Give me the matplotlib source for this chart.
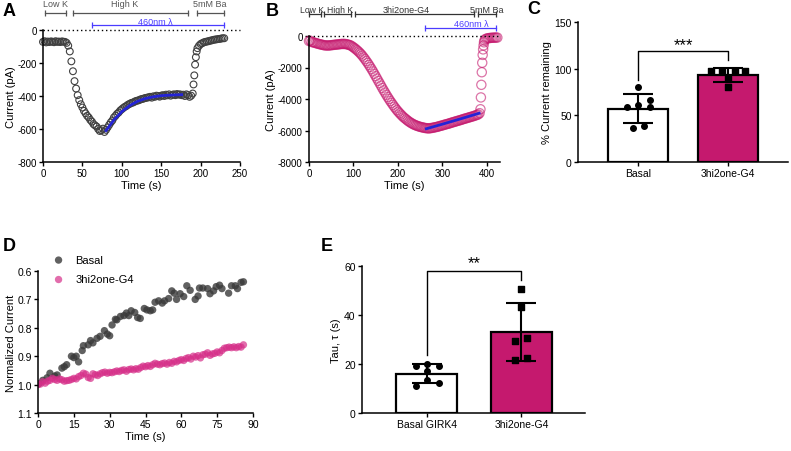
import numpy as np
import matplotlib
matplotlib.use("Agg")
import matplotlib.pyplot as plt
import matplotlib.transforms as mtransforms

plt.rcParams['font.family'] = ['Liberation Sans', 'DejaVu Sans']
plt.rcParams['axes.unicode_minus'] = False

# ---- data ----
# A: basal GIRK4 current trace (2 s sampling, then the Ba block)
a_current_main = [-72, -68, -75, -70, -73, -69, -71, -74, -68, -72, -70, -73, -69, -71, -72,
                  -78, -95, -130, -190, -250, -310, -355, -395, -425, -450, -470, -490, -505,
                  -520, -530, -545, -555, -570, -578, -585, -600, -612, -608, -598, -618, -605,
                  -590, -575, -560, -548, -530, -520, -508, -500, -488, -480, -472, -465, -460,
                  -452, -448, -442, -440, -435, -430, -428, -425, -420, -418, -415, -412, -410,
                  -408, -405, -410, -402, -405, -398, -400, -404, -398, -395, -400, -392, -396,
                  -390, -398, -393, -390, -395, -388, -392, -390, -395, -392, -400, -390, -395,
                  -405, -398]
a_jump_time = [190, 191, 192, 193, 194, 195, 196, 198]
a_jump_current = [-385, -330, -275, -210, -165, -130, -110, -95]
a_tail_time = [200, 202, 204, 206, 208, 210, 212, 214, 216, 218, 220, 222, 224, 226, 228, 230]
a_tail_current = [-85, -80, -75, -72, -70, -68, -65, -63, -60, -58, -57, -55, -54, -52, -50, -50]
a_fit_time = [80, 90, 100, 110, 120, 130, 140, 150, 160, 176]
a_fit_current = [-610, -545, -495, -458, -432, -415, -405, -398, -395, -392]

# B: 3hi2one-G4 current trace (3 s sampling, then the Ba block)
b_current_main = [-320, -300, -380, -400, -420, -450, -470, -500, -520, -540, -560, -580, -600,
                  -590, -610, -600, -590, -580, -570, -560, -550, -540, -530, -520, -510, -500,
                  -510, -500, -520, -540, -560, -590, -640, -700, -760, -830, -900, -980, -1060,
                  -1150, -1250, -1360, -1470, -1590, -1710, -1840, -1970, -2110, -2250, -2400,
                  -2550, -2700, -2850, -3000, -3150, -3300, -3450, -3590, -3730, -3870, -4000,
                  -4130, -4250, -4370, -4490, -4600, -4710, -4810, -4900, -4990, -5080, -5160,
                  -5230, -5300, -5370, -5430, -5490, -5540, -5590, -5630, -5670, -5700, -5730,
                  -5760, -5780, -5800, -5820, -5840, -5850, -5860, -5870, -5850, -5840, -5830,
                  -5800, -5790, -5770, -5750, -5720, -5700, -5680, -5650, -5630, -5600, -5580,
                  -5560, -5530, -5500, -5480, -5450, -5430, -5400, -5380, -5350, -5330, -5300,
                  -5270, -5250, -5220, -5200, -5170, -5150, -5120, -5100, -5070, -5040, -5010,
                  -4980, -4900]
b_jump_time = [386, 387, 388, 389, 390, 391, 392, 393, 394, 395, 397, 400, 403, 406, 409, 412,
               415, 418, 421, 424]
b_jump_current = [-4650, -3900, -3100, -2300, -1700, -1200, -850, -600, -400, -280, -200, -160,
                  -140, -130, -120, -110, -110, -100, -100, -100]
b_fit_time = [264, 300, 340, 383]
b_fit_current = [-5890, -5600, -5270, -4905]

# C: % current remaining
c_groups = ['Basal', '3hi2one-G4']
c_basal = [80, 59, 61, 59, 66, 36, 39]
c_g4 = [97, 98, 98, 98, 89, 80]

# D: normalized current
d_basal_time = [0.3, 2, 3.8, 5, 7, 8, 10, 11, 12, 14, 15, 16, 17, 18.5, 19, 21, 22, 23, 24.7,
                26, 27.8, 29, 30, 31, 32.4, 33, 34.5, 36, 37, 38, 39, 40.5, 41.7, 42.8, 44.5,
                45.6, 47, 48, 49, 50.5, 52, 53, 54.7, 56, 57, 58, 59.5, 61, 62.3, 63.7, 65.8,
                67, 67.6, 69, 71, 72, 73.5, 74.6, 76, 77, 79.8, 81, 82.6, 83.5, 85, 86]
d_basal = [0.997, 0.985, 0.976, 0.96, 0.97, 0.966, 0.942, 0.937, 0.93, 0.90, 0.905, 0.90,
           0.92, 0.88, 0.863, 0.86, 0.845, 0.853, 0.837, 0.83, 0.81, 0.822, 0.828, 0.79,
           0.77, 0.772, 0.76, 0.757, 0.748, 0.757, 0.74, 0.746, 0.764, 0.767, 0.732, 0.737,
           0.74, 0.737, 0.71, 0.705, 0.713, 0.705, 0.697, 0.67, 0.678, 0.70, 0.68, 0.69,
           0.652, 0.668, 0.70, 0.688, 0.66, 0.66, 0.662, 0.68, 0.67, 0.655, 0.65, 0.662,
           0.678, 0.652, 0.652, 0.662, 0.64, 0.638]
d_g4 = [1.000, 0.998, 0.990, 0.995, 0.988, 0.985, 0.978, 0.982, 0.985, 0.980, 0.983, 0.988,
        0.986, 0.985, 0.982, 0.978, 0.980, 0.972, 0.968, 0.960, 0.963, 0.975, 0.978, 0.962,
        0.965, 0.968, 0.962, 0.958, 0.956, 0.960, 0.957, 0.958, 0.955, 0.952, 0.954, 0.950,
        0.948, 0.953, 0.947, 0.945, 0.948, 0.944, 0.946, 0.940, 0.935, 0.937, 0.933, 0.936,
        0.930, 0.925, 0.928, 0.930, 0.926, 0.924, 0.928, 0.922, 0.925, 0.918, 0.920, 0.915,
        0.912, 0.915, 0.908, 0.905, 0.910, 0.900, 0.903, 0.898, 0.906, 0.895, 0.893, 0.888,
        0.897, 0.892, 0.890, 0.885, 0.888, 0.880, 0.872, 0.870, 0.868, 0.870, 0.867, 0.870,
        0.866, 0.868, 0.860]

# E: tau
e_groups = ['Basal GIRK4', '3hi2one-G4']
e_basal = [19.3, 20.0, 19.3, 17.2, 13.6, 10.9, 12.2]
e_g4 = [50.7, 43.4, 29.3, 30.8, 21.6, 22.3]

# ---- styling / layout ----
MAG = '#c5196e'
W, H = 791, 452
fig = plt.figure(figsize=(W / 100, H / 100), dpi=100)


def px_axes(left, right, top, bottom):
    return fig.add_axes([left / W, 1 - bottom / H, (right - left) / W, (bottom - top) / H])


def style(ax, fs=7):
    for s in ['top', 'right']:
        ax.spines[s].set_visible(False)
    for s in ['left', 'bottom']:
        ax.spines[s].set_linewidth(1.1)
    ax.tick_params(direction='out', length=3, width=1, labelsize=fs, pad=1.5)


def seg(ax, x0, x1, y, color, text, tx, ty, fs):
    tr = mtransforms.blended_transform_factory(ax.transData, ax.transAxes)
    ax.plot([x0, x1], [y, y], color=color, lw=0.9, marker='|', ms=5, mew=0.9,
            transform=tr, clip_on=False)
    ax.text(tx, ty, text, color=color, fontsize=fs, ha='center', va='center', transform=tr)


# A
axA = px_axes(43, 240, 31, 163)
style(axA)
a_time = list(np.arange(0, 2 * len(a_current_main), 2)) + a_jump_time + a_tail_time
a_cur = a_current_main + a_jump_current + a_tail_current
axA.scatter(a_time, a_cur, s=24, facecolors='none', edgecolors='#404040', linewidths=0.8,
            clip_on=False, zorder=2)
axA.plot(a_fit_time, a_fit_current, color='#2323d6', lw=2, zorder=3)
axA.axhline(0, color='k', ls=(0, (1, 2)), lw=1, clip_on=False)
axA.set_xlim(0, 250)
axA.set_ylim(-800, 0)
axA.set_xticks(range(0, 251, 50))
axA.set_yticks(range(-800, 1, 200))
axA.set_xlabel('Time (s)', fontsize=8, labelpad=1)
axA.set_ylabel('Current (pA)', fontsize=8, labelpad=1)
seg(axA, 2.5, 29, 1.129, '#555555', 'Low K', 15.6, 1.197, 6.5)
seg(axA, 38, 184, 1.129, '#555555', 'High K', 103, 1.197, 6.5)
seg(axA, 195, 230, 1.129, '#555555', '5mM Ba', 212, 1.197, 6.5)
seg(axA, 62, 230, 1.038, '#4b3cff', '460nm λ', 142, 1.068, 6.5)

# B
axB = px_axes(309, 500, 37, 163)
style(axB)
b_time = list(np.arange(0, 3 * len(b_current_main), 3)) + b_jump_time
b_cur = b_current_main + b_jump_current
axB.scatter(b_time, b_cur, s=44, facecolors='none', edgecolors=MAG, linewidths=0.9,
            alpha=0.6, clip_on=False, zorder=2)
axB.plot(b_fit_time, b_fit_current, color='#2323d6', lw=2, zorder=3)
axB.axhline(0, color='k', ls=(0, (1, 2)), lw=1, clip_on=False)
axB.set_xlim(0, 430)
axB.set_ylim(-8000, 0)
axB.set_xticks(range(0, 401, 100))
axB.set_yticks(range(-8000, 1, 2000))
axB.set_xlabel('Time (s)', fontsize=8, labelpad=1)
axB.set_ylabel('Current (pA)', fontsize=8, labelpad=1)
seg(axB, 0, 28, 1.175, '#333333', 'Low K', 7, 1.214, 6.2)
seg(axB, 33, 95, 1.175, '#333333', 'High K', 69, 1.214, 6.2)
seg(axB, 103, 372, 1.175, '#333333', '3hi2one-G4', 219, 1.214, 6.5)
seg(axB, 380, 422, 1.175, '#333333', '5mM Ba', 400, 1.214, 6.5)
seg(axB, 262, 422, 1.063, '#4b3cff', '460nm λ', 365, 1.10, 6.5)


def bar_panel(ax, groups, g1, g2, off1, off2, width):
    pos = np.arange(len(groups))
    vals = [np.array(g1), np.array(g2)]
    means = [v.mean() for v in vals]
    sds = [v.std(ddof=1) for v in vals]
    ax.bar(pos, means, width=width, color=['white', MAG], edgecolor='k', lw=1.6, zorder=1)
    ax.errorbar(pos, means, yerr=sds, fmt='none', ecolor='k', elinewidth=1.5, capsize=10.5,
                capthick=1.5, zorder=3)
    ax.scatter(pos[0] + np.array(off1), g1, s=16, marker='o', color='k', zorder=4)
    ax.scatter(pos[1] + np.array(off2), g2, s=16, marker='s', color='k', zorder=4)
    ax.set_xticks(pos)
    ax.set_xticklabels(groups, fontsize=7.5)
    return pos


# C
axC = px_axes(578, 788, 23, 163)
style(axC, 7.5)
bar_panel(axC, c_groups, c_basal, c_g4,
          [0, -0.122, 0, 0.13, 0.13, -0.056, 0.063],
          [-0.19, -0.067, 0.074, 0.185, 0, 0], 0.66)
axC.set_xlim(-0.667, 1.667)
axC.set_ylim(0, 150)
axC.set_yticks([0, 50, 100, 150])
axC.set_ylabel('% Current remaining', fontsize=8, labelpad=2)
axC.plot([0, 0, 1, 1], [87.5, 118.6, 118.6, 109], color='k', lw=1, zorder=5)
axC.text(0.5, 126, '***', ha='center', va='center', fontsize=12)

# D
axD = px_axes(38, 253, 272, 414)
style(axD, 7.5)
axD.scatter(d_basal_time, d_basal, s=28, color='#3a3a3a', alpha=0.8, edgecolors='none',
            label='Basal', zorder=2)
axD.scatter(np.arange(len(d_g4)), d_g4, s=28, color='#d62f89', alpha=0.7, edgecolors='none',
            label='3hi2one-G4', zorder=2)
axD.set_xlim(0, 90)
axD.set_ylim(1.1, 0.6)
axD.set_xticks(range(0, 91, 15))
axD.set_yticks([0.6, 0.7, 0.8, 0.9, 1.0, 1.1])
axD.set_yticklabels(['0.6', '0.7', '0.8', '0.9', '1.0', '1.1'])
axD.set_xlabel('Time (s)', fontsize=8, labelpad=1)
axD.set_ylabel('Normalized Current', fontsize=8, labelpad=1)
axD.legend(loc='upper left', bbox_to_anchor=((53 - 38) / 215, (414 - 256) / 142),
           frameon=False, borderaxespad=0, borderpad=0, handletextpad=1.0, labelspacing=0.85,
           fontsize=8, handlelength=1)

# E
axE = px_axes(362, 585, 267, 414)
style(axE, 7.5)
bar_panel(axE, e_groups, e_basal, e_g4,
          [-0.116, 0, 0.13, 0, 0, -0.116, 0.13],
          [0, 0, -0.063, 0.06, -0.063, 0.06], 0.64)
axE.set_xlim(-0.68, 1.67)
axE.set_ylim(0, 60)
axE.set_yticks([0, 20, 40, 60])
axE.set_ylabel('Tau, τ (s)', fontsize=8, labelpad=2)
axE.plot([0, 0, 1, 1], [23.7, 58, 58, 54.3], color='k', lw=1, clip_on=False, zorder=5)
axE.text(0.5, 61.3, '**', ha='center', va='center', fontsize=12, clip_on=False)

# panel letters
for lab, x, y in [('A', 3, 3), ('B', 266, 3), ('C', 527, 1), ('D', 3, 238), ('E', 321, 238)]:
    fig.text(x / W, 1 - y / H, lab, fontsize=13, fontweight='bold', ha='left', va='top')

fig.savefig('out.png', dpi=100)
